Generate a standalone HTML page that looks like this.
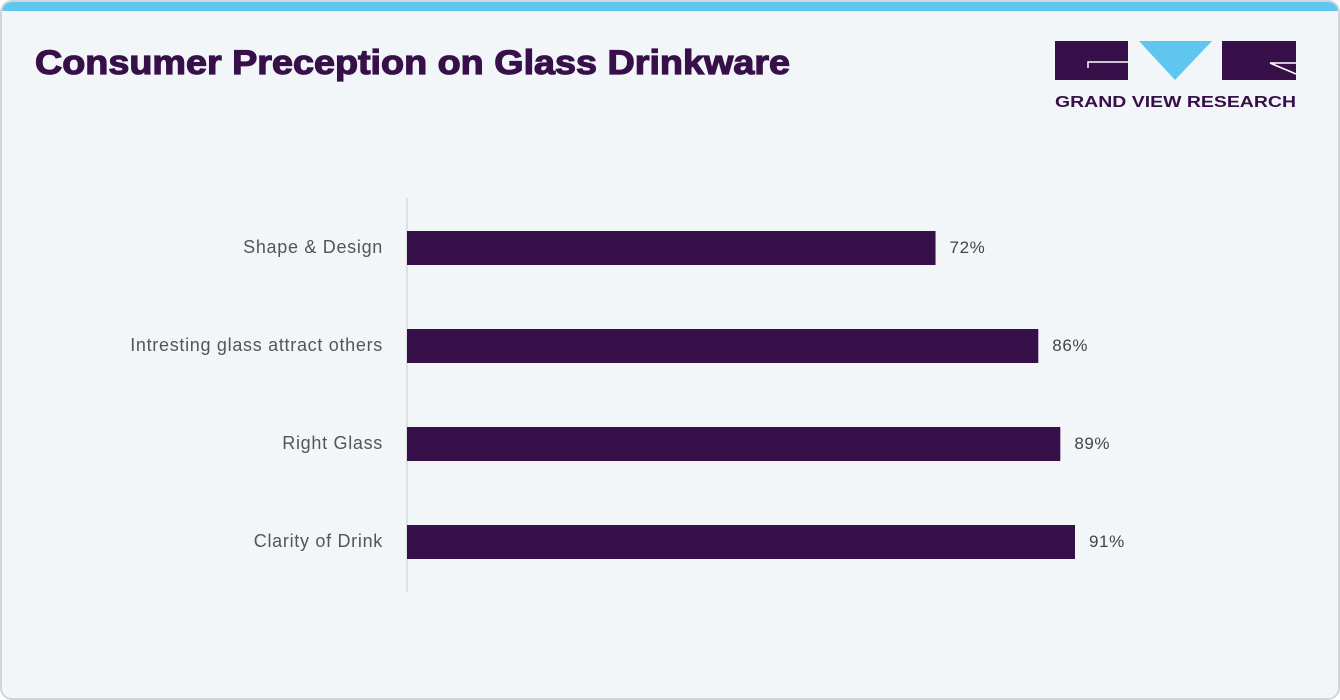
<!DOCTYPE html>
<html><head><meta charset="utf-8">
<style>
body{margin:0;width:1340px;height:700px;background:#fff;font-family:"Liberation Sans",sans-serif;overflow:hidden}
.card{position:absolute;left:0;top:0;width:1336px;height:696px;border:2px solid #d3d6d9;border-radius:12px;background:#f2f6f9;overflow:hidden}
.band{position:absolute;left:0;top:0;width:100%;height:9px;background:#5fc6f0}
</style></head><body>
<div class="card">
<div class="band"></div>
<svg width="1340" height="700" style="position:absolute;left:-2px;top:-2px">
<text x="35" y="74" font-size="34" font-weight="bold" fill="#37104a" stroke="#37104a" stroke-width="1.2" textLength="755" lengthAdjust="spacingAndGlyphs">Consumer Preception on Glass Drinkware</text>
<g>
<rect x="1055" y="41" width="73" height="39" fill="#37104a"/>
<path d="M1128 62 H1088 V68" stroke="#fff" stroke-width="1.5" fill="none"/>
<polygon points="1139,41 1212,41 1175,80" fill="#5fc6f0"/>
<rect x="1222" y="41" width="74" height="39" fill="#37104a"/>
<path d="M1296 63 H1270 L1296 74" stroke="#fff" stroke-width="1.5" fill="none"/>
<text x="1055" y="107" font-size="15.5" font-weight="bold" fill="#37104a" textLength="241" lengthAdjust="spacingAndGlyphs">GRAND VIEW RESEARCH</text>
</g>
<line x1="407" y1="198" x2="407" y2="592" stroke="#c8cbce" stroke-width="1"/>
<g id="bars"></g>
</svg>
</div>
<script>
const categories=["Shape & Design","Intresting glass attract others","Right Glass","Clarity of Drink"];
const values=[72,86,89,91];
const labels=["72%","86%","89%","91%"];
const x0=407, scale=(1075-407)/91;
function xs(v){return x0+v*scale;}
function yc(i){return 248+i*98;}
const g=document.getElementById('bars');
const ns="http://www.w3.org/2000/svg";
categories.forEach((c,i)=>{
 const r=document.createElementNS(ns,'rect');
 r.setAttribute('x',x0);r.setAttribute('y',yc(i)-17);
 r.setAttribute('width',xs(values[i])-x0);r.setAttribute('height',34);
 r.setAttribute('fill','#37104a');
 
 
 g.appendChild(r);
 const t=document.createElementNS(ns,'text');
 t.setAttribute('x',383);t.setAttribute('y',yc(i)+5);
 t.setAttribute('text-anchor','end');t.setAttribute('font-size','18');t.setAttribute('fill','#555');
 t.setAttribute('letter-spacing','0.7');
 t.textContent=c;
 
 
 g.appendChild(t);
 const v=document.createElementNS(ns,'text');
 v.setAttribute('x',xs(values[i])+14);v.setAttribute('y',yc(i)+5);
 v.setAttribute('font-size','17');v.setAttribute('fill','#444');
 v.setAttribute('letter-spacing','0.6');
 v.textContent=labels[i];
 
 
 g.appendChild(v);
});
</script>
</body></html>
